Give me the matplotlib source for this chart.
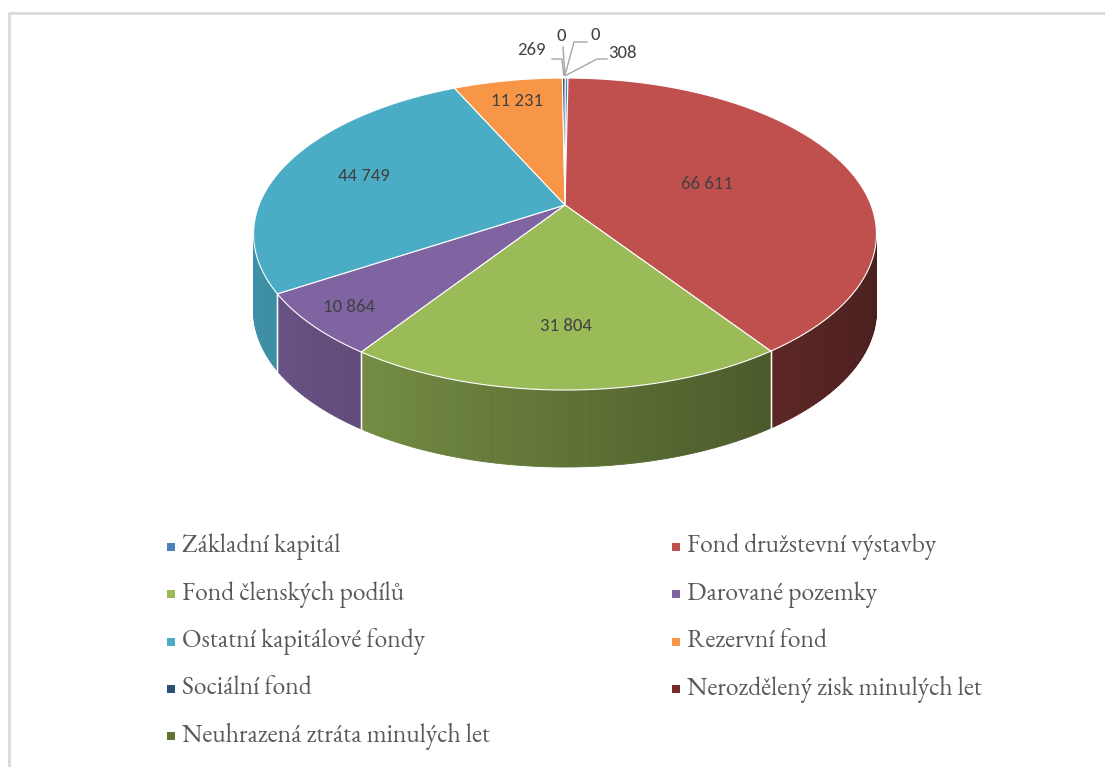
import numpy as np
import matplotlib.pyplot as plt
from matplotlib.colors import to_rgb
from matplotlib.patches import Polygon

# data (thousands CZK), slices go clockwise from 12 o'clock
names = [
    "Základní kapitál",
    "Fond družstevní výstavby",
    "Fond členských podílů",
    "Darované pozemky",
    "Ostatní kapitálové fondy",
    "Rezervní fond",
    "Sociální fond",
    "Nerozdělený zisk minulých let",
    "Neuhrazená ztráta minulých let",
]
values = [308, 66611, 31804, 10864, 44749, 11231, 269, 0, 0]
colors = ["#4F81BD", "#C0504D", "#9BBB59", "#8064A2", "#4BACC6",
          "#F79646", "#2C4D75", "#772C2A", "#5F7530"]

# pie geometry in pixels, perspective view of a tilted disc
cx, cy = 565, 205          # projected pie centre
sx, sy = 306, 150.6        # scale of unit circle
k = 0.186                  # perspective strength (back smaller than front)
depth = 77

# label radius (fraction of pie radius) for the big slices
label_r = {1: 0.50, 2: 0.70, 3: 0.87, 4: 0.71, 5: 0.81}
# outside labels for tiny slices: label centre and leader elbow
outer = {0: ((622, 53), (597, 59), (607, 59)),
         6: ((531, 50), (562, 59), (552, 59)),
         7: ((595, 35), (574, 42), (587, 42)),
         8: ((561, 36), (563, 47), (563, 47))}


def pt(theta_deg, r=1.0):
    t = np.radians(theta_deg)
    X, Z = r * np.cos(t), r * np.sin(t)
    w = 1 + k * Z
    return cx + sx * X / w, cy - sy * Z / w


def fmt(v):
    return f"{v:,}".replace(",", " ")


fig = plt.figure(figsize=(11.05, 7.67), dpi=100)
ax = fig.add_axes([0, 0, 1, 1])
ax.set_xlim(0, 1105)
ax.set_ylim(767, 0)
ax.axis("off")

# chart frame (only top and left edges are inside the crop)
ax.plot([9, 9, 1105], [767, 13, 13], color="#D9D9D9", lw=2)

total = sum(values)
cum = np.concatenate([[0], np.cumsum(values)])
starts = 90 - cum[:-1] / total * 360
ends = 90 - cum[1:] / total * 360

# silhouette angles where the outline is vertical
a_edge = np.degrees(np.arcsin(k))
vis_lo, vis_hi = -180 + a_edge, -a_edge

# side walls
for i, (a1, a0) in enumerate(zip(starts, ends)):
    lo, hi = max(a0, vis_lo), min(a1, vis_hi)
    if hi <= lo:
        continue
    base = np.array(to_rgb(colors[i]))
    grid = np.linspace(lo, hi, max(2, int(hi - lo) + 2))
    for g0, g1 in zip(grid[:-1], grid[1:]):
        p0, p1 = pt(g0), pt(g1)
        f = 0.615 - 0.235 * np.cos(np.radians((g0 + g1) / 2))
        c = np.clip(base * f, 0, 1)
        ax.add_patch(Polygon([p0, p1, (p1[0], p1[1] + depth), (p0[0], p0[1] + depth)],
                             closed=True, facecolor=c, edgecolor=c, lw=0.6))
    for a in (lo, hi):
        if a in (vis_lo, vis_hi):
            continue
        x, y = pt(a)
        ax.plot([x, x], [y, y + depth], color="white", lw=1, alpha=0.8)

# top face
for i, (a1, a0) in enumerate(zip(starts, ends)):
    if values[i] == 0:
        continue
    n = max(3, int(abs(a1 - a0)) * 2)
    poly = [(cx, cy)] + [pt(a) for a in np.linspace(a1, a0, n)]
    ax.add_patch(Polygon(poly, closed=True, facecolor=colors[i],
                         edgecolor="white", lw=0.8, joinstyle="round"))

# data labels
lab_font = dict(family=["Carlito", "Lato", "DejaVu Sans"], fontsize=13.5, color="#404040")
for i, v in enumerate(values):
    mid = (starts[i] + ends[i]) / 2
    if i in label_r:
        x, y = pt(mid, label_r[i])
        ax.text(x, y, fmt(v), ha="center", va="center", **lab_font)
    else:
        (tx, ty), e1, e2 = outer[i]
        x0, y0 = pt(mid)
        ax.plot([x0, e1[0], e2[0]], [y0 - 3, e1[1], e2[1]], color="#A6A6A6", lw=1)
        ax.text(tx, ty, fmt(v), ha="center", va="center", **lab_font)

# legend, row-major in two columns
leg_x = [171, 676]
leg_y0, leg_dy = 547, 47.3
for i, name in enumerate(names):
    x = leg_x[i % 2]
    y = leg_y0 + (i // 2) * leg_dy
    ax.scatter([x], [y], marker="s", s=30, color=colors[i], linewidths=0)
    ax.text(x + 11, y, name, ha="left", va="center", fontsize=18.5,
            family=["EB Garamond", "DejaVu Serif"], color="#595959")

fig.savefig("out.png", dpi=100)
